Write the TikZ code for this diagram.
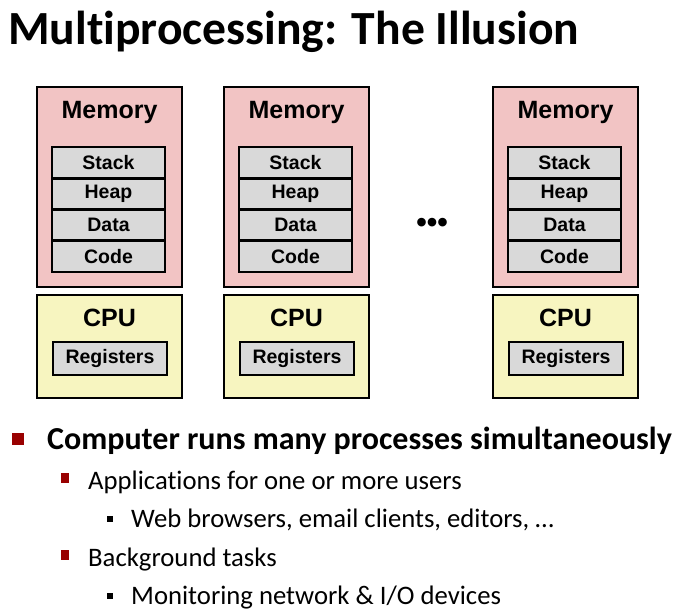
\documentclass[tikz,border=0pt]{standalone}
\usepackage{fontspec}
\setmainfont{Carlito}[Ligatures=NoCommon]
\newfontfamily\boxfont{Liberation Sans}
\usetikzlibrary{arrows}
\definecolor{mempink}{RGB}{242,196,196}
\definecolor{cpuyellow}{RGB}{247,245,192}
\definecolor{seggray}{RGB}{217,217,217}
\definecolor{bulletred}{RGB}{153,0,0}
\tikzstyle{outer} = [draw,line width=2.6pt,inner sep=0pt,minimum width=145pt]
\tikzstyle{segment} = [draw,line width=2.6pt,fill=seggray,inner sep=0pt,minimum width=113pt,minimum height=31.3pt,font=\boxfont\bfseries\fontsize{19.5}{22}\selectfont]
\tikzstyle{header} = [inner sep=0pt,font=\boxfont\bfseries\fontsize{25}{28}\selectfont]
\tikzstyle{item} = [anchor=base west,inner sep=0pt]

\begin{document}
\begin{tikzpicture}[x=1pt,y=-1pt]
				\useasboundingbox (0,0) rectangle (690,613);
				\node[item,font=\bfseries\fontsize{47.6}{54}\selectfont] (title) at (8,44) {Multiprocessing: The Illusion};
				
				\foreach \px/\n in {0/a,187/b,456/c}{
				\node[outer,fill=mempink,minimum height=200pt] (mem\n) at (109.5+\px,187) {};
				\node[header] (memlabel\n) at (109.5+\px,112) {Memory};
				\foreach \seg/\y in {Stack/162.6,Heap/193.9,Data/225.2,Code/256.4}
				\node[segment] (\seg\n) at (108.5+\px,\y) {\seg};
				
				\node[outer,fill=cpuyellow,minimum height=103pt] (cpu\n) at (109.5+\px,346.5) {};
				\node[header] (cpulabel\n) at (109.5+\px,318) {CPU};
				\node[segment,minimum width=114pt,minimum height=33pt] (regs\n) at (110+\px,358.5) {Registers};
				}
				\node[inner sep=0pt,font=\boxfont\bfseries\fontsize{30}{34}\selectfont] (dots) at (432,225) {•••};
				
				\node[fill=bulletred,minimum size=12pt,inner sep=0pt] (b1) at (18,439) {};
				\node[item,font=\bfseries\fontsize{32}{38}\selectfont] (t1) at (47,449) {Computer runs many processes simultaneously};
				\node[fill=bulletred,minimum width=8pt,minimum height=10pt,inner sep=0pt] (b2) at (65,478) {};
				\node[item,font=\fontsize{26.7}{32}\selectfont] (t2) at (88,489) {Applications for one or more users};
				\node[fill=black,minimum size=6pt,inner sep=0pt] (b3) at (110,519) {};
				\node[item,font=\fontsize{26.7}{32}\selectfont] (t3) at (131,527) {Web browsers, email clients, editors, …};
				\node[fill=bulletred,minimum width=8pt,minimum height=10pt,inner sep=0pt] (b4) at (65,555) {};
				\node[item,font=\fontsize{26.7}{32}\selectfont] (t4) at (88,566) {Background tasks};
				\node[fill=black,minimum size=6pt,inner sep=0pt] (b5) at (110,596) {};
				\node[item,font=\fontsize{26.7}{32}\selectfont] (t5) at (131,604) {Monitoring network \& I/O devices};
			\end{tikzpicture}
\end{document}
